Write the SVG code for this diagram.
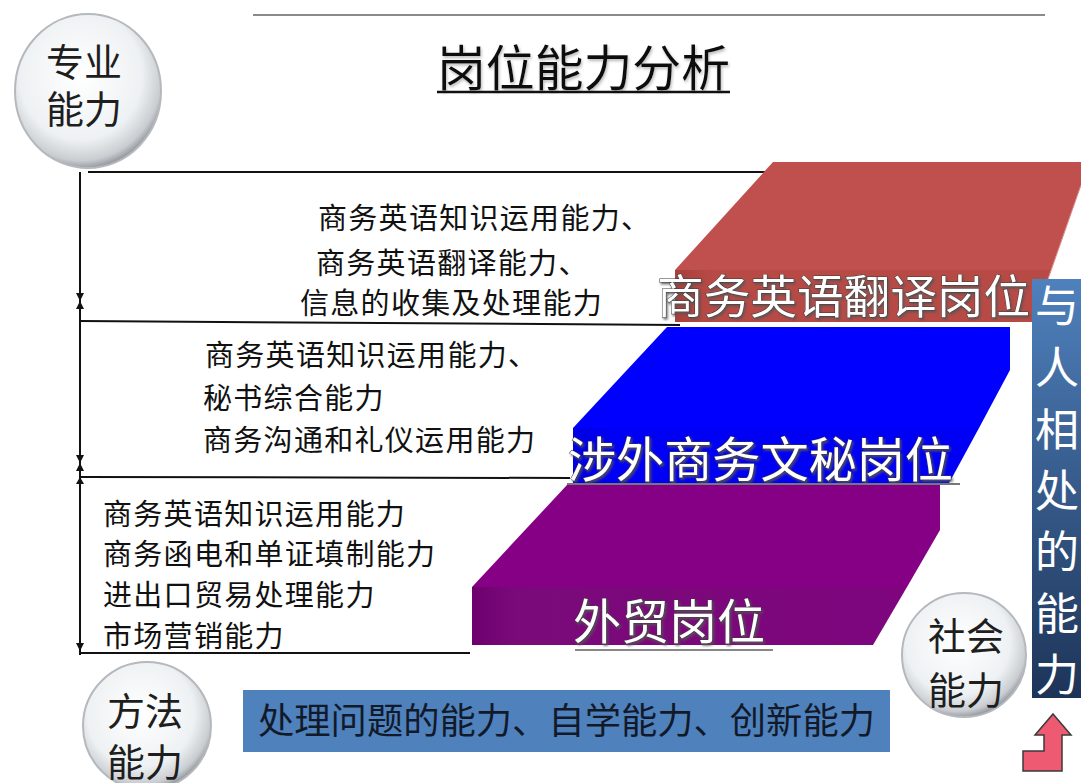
<svg xmlns="http://www.w3.org/2000/svg" width="1081" height="783" viewBox="0 0 1081 783">
<defs>
<style>
.cjk{font-family:"Noto Sans CJK SC","Noto Sans",sans-serif;}
.blk{font-size:29px;fill:#111;letter-spacing:1.3px;}
.lbl{fill:#fff;stroke:#3a3a3a;stroke-width:1;paint-order:stroke;filter:url(#sh);}
.cir{font-size:38px;fill:#1e1e1e;text-anchor:middle;}
.ln{stroke:#111;stroke-width:2;fill:none;}
</style>
<radialGradient id="glass" cx="0.45" cy="0.4" r="0.6">
<stop offset="0" stop-color="#ffffff"/>
<stop offset="0.7" stop-color="#eef1f3"/>
<stop offset="0.92" stop-color="#c9cdd1"/>
<stop offset="1" stop-color="#9a9ea3"/>
</radialGradient>
<linearGradient id="bar" x1="0" y1="0" x2="0" y2="1">
<stop offset="0" stop-color="#4f81bd"/>
<stop offset="1" stop-color="#1d3458"/>
</linearGradient>
<linearGradient id="redF" x1="0" y1="0" x2="1" y2="0">
<stop offset="0" stop-color="#a8403c"/>
<stop offset="0.1" stop-color="#b84a46"/>
<stop offset="1" stop-color="#b84a46"/>
</linearGradient>
<linearGradient id="bluF" x1="0" y1="0" x2="1" y2="0">
<stop offset="0" stop-color="#0000e0"/>
<stop offset="0.1" stop-color="#0000f5"/>
<stop offset="1" stop-color="#0000f5"/>
</linearGradient>
<linearGradient id="purF" x1="0" y1="0" x2="1" y2="0">
<stop offset="0" stop-color="#6e006e"/>
<stop offset="0.1" stop-color="#7a0a7a"/>
<stop offset="1" stop-color="#7e057e"/>
</linearGradient>
<filter id="sh" x="-5%" y="-20%" width="110%" height="150%">
<feDropShadow dx="1.5" dy="2" stdDeviation="1" flood-color="#555" flood-opacity="0.8"/>
</filter>
<filter id="soft" x="-10%" y="-10%" width="120%" height="130%">
<feDropShadow dx="1" dy="2" stdDeviation="1.5" flood-color="#888" flood-opacity="0.6"/>
</filter>
</defs>
<rect width="1081" height="783" fill="#ffffff"/>

<!-- top rule -->
<line x1="253" y1="15" x2="1045" y2="15" stroke="#8a8a8a" stroke-width="2"/>

<g id="title">
<text class="cjk" x="437" y="86" font-size="49" fill="#111" filter="url(#soft)" textLength="293" lengthAdjust="spacingAndGlyphs">岗位能力分析</text>
<line x1="437" y1="92" x2="730" y2="92" stroke="#111" stroke-width="2.5"/>
</g>

<!-- connectors: left dimension line and separators -->
<g id="connectors">
<line class="ln" x1="88" y1="172" x2="780" y2="172"/>
<line class="ln" x1="80" y1="321" x2="680" y2="325"/>
<line class="ln" x1="80" y1="477" x2="570" y2="478"/>
<line class="ln" x1="80" y1="653" x2="470" y2="653"/>
<line class="ln" x1="80" y1="172" x2="80" y2="655"/>
<path d="M76,293 L84,293 L80,301 Z M76,309 L84,309 L80,301 Z" fill="#111"/>
<path d="M76,455 L84,455 L80,463 Z M76,471 L84,471 L80,463 Z" fill="#111"/>
<path d="M76,484 L84,484 L80,477 Z" fill="#111"/>
<path d="M76,643 L84,643 L80,651 Z" fill="#111"/>
</g>

<g id="circle-zhuanye">
<ellipse cx="88" cy="91" rx="73" ry="77" fill="url(#glass)" stroke="#b5b9bd" stroke-width="2"/>
<text class="cjk cir" x="84" y="76">专业</text>
<text class="cjk cir" x="84" y="123">能力</text>
</g>

<g id="slab-red">
<polygon points="773,162 1081,162 1081,185 1051,270 675,270" fill="#c0504d"/>
<polygon points="675,270 1051,270 1033,322 675,322" fill="url(#redF)"/>
<line x1="1081" y1="185" x2="1033" y2="322" stroke="#d98a86" stroke-width="1"/>
<text class="cjk lbl" x="657" y="313" font-size="46" textLength="373" lengthAdjust="spacingAndGlyphs">商务英语翻译岗位</text>
</g>

<g id="slab-blue">
<polygon points="667,327 1010,327 1010,370 979,428 573,428" fill="#0000ff"/>
<polygon points="573,428 979,428 948,485 573,485" fill="url(#bluF)"/>
<text class="cjk lbl" x="568" y="477" font-size="48" textLength="385" lengthAdjust="spacingAndGlyphs">涉外商务文秘岗位</text>
<line x1="567" y1="484" x2="960" y2="484" stroke="#777" stroke-width="2"/>
</g>

<g id="slab-purple">
<polygon points="567,485 940,485 940,530 907,587 472,587" fill="#850085"/>
<polygon points="472,587 907,587 873,645 472,645" fill="url(#purF)"/>
<text class="cjk lbl" x="573" y="639" font-size="48" textLength="192" lengthAdjust="spacingAndGlyphs">外贸岗位</text>
<line x1="575" y1="650" x2="773" y2="650" stroke="#888" stroke-width="2"/>
</g>

<g id="block-1">
<text class="cjk blk" x="318" y="229">商务英语知识运用能力、</text>
<text class="cjk blk" x="316" y="274">商务英语翻译能力、</text>
<text class="cjk blk" x="300" y="314">信息的收集及处理能力</text>
</g>

<g id="block-2">
<text class="cjk blk" x="205" y="366">商务英语知识运用能力、</text>
<text class="cjk blk" x="203" y="409">秘书综合能力</text>
<text class="cjk blk" x="203" y="451">商务沟通和礼仪运用能力</text>
</g>

<g id="block-3">
<text class="cjk blk" x="103" y="525">商务英语知识运用能力</text>
<text class="cjk blk" x="103" y="565">商务函电和单证填制能力</text>
<text class="cjk blk" x="103" y="606">进出口贸易处理能力</text>
<text class="cjk blk" x="103" y="647">市场营销能力</text>
</g>

<g id="bar-social">
<rect x="1032" y="279" width="49" height="419" fill="url(#bar)"/>
<g class="cjk" font-size="44" fill="#fff" text-anchor="middle">
<text x="1057" y="322">与</text>
<text x="1057" y="384">人</text>
<text x="1057" y="446">相</text>
<text x="1057" y="507">处</text>
<text x="1057" y="568">的</text>
<text x="1057" y="630">能</text>
<text x="1057" y="691">力</text>
</g>
</g>

<g id="circle-shehui">
<circle cx="964" cy="655" r="62" fill="url(#glass)" stroke="#b5b9bd" stroke-width="2"/>
<text class="cjk cir" x="966" y="650">社会</text>
<text class="cjk cir" x="966" y="704">能力</text>
</g>

<g id="circle-fangfa">
<circle cx="147" cy="726" r="64" fill="url(#glass)" stroke="#b5b9bd" stroke-width="2"/>
<text class="cjk cir" x="145" y="725">方法</text>
<text class="cjk cir" x="145" y="776">能力</text>
</g>

<g id="banner-method">
<rect x="243" y="690" width="647" height="62" fill="#4f81bd"/>
<text class="cjk" x="258" y="734" font-size="36" fill="#121a2a" textLength="617" lengthAdjust="spacingAndGlyphs">处理问题的能力、自学能力、创新能力</text>
</g>

<g id="arrow-up">
<path d="M1053,714 L1071,735 L1062,735 L1062,771 L1023,771 L1023,751 L1044,751 L1044,735 L1035,735 Z" fill="#ee5a72" stroke="#3a3a3a" stroke-width="1.5"/>
</g>
</svg>
